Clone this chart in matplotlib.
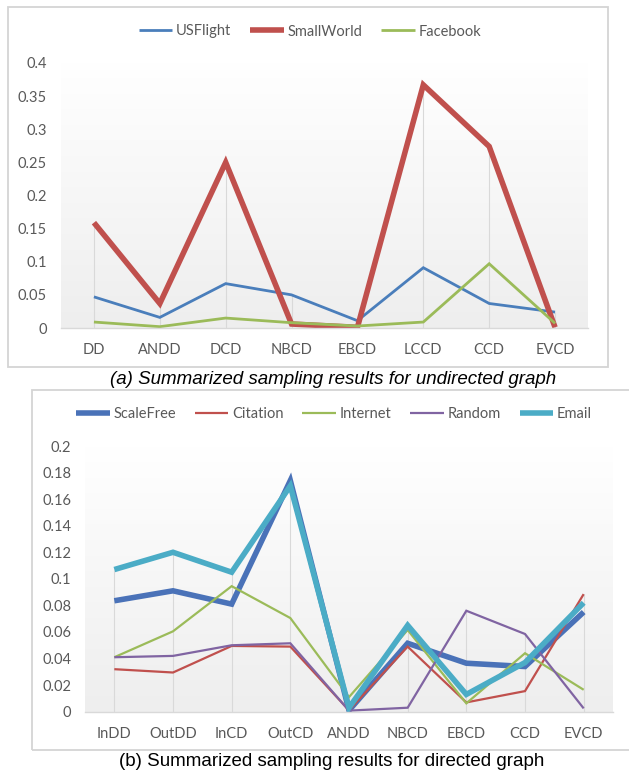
import matplotlib
matplotlib.use("Agg")
import matplotlib.pyplot as plt
import numpy as np
from matplotlib.patches import Rectangle

# ---------------- data ----------------
cats_a = ["DD", "ANDD", "DCD", "NBCD", "EBCD", "LCCD", "CCD", "EVCD"]
usflight = [0.047, 0.016, 0.067, 0.050, 0.011, 0.091, 0.037, 0.024]
smallworld = [0.159, 0.037, 0.250, 0.006, 0.001, 0.367, 0.274, 0.001]
facebook = [0.009, 0.002, 0.015, 0.008, 0.003, 0.009, 0.097, 0.007]
yticks_a = [0, 0.05, 0.1, 0.15, 0.2, 0.25, 0.3, 0.35, 0.4]
ylabels_a = ["0", "0.05", "0.1", "0.15", "0.2", "0.25", "0.3", "0.35", "0.4"]

cats_b = ["InDD", "OutDD", "InCD", "OutCD", "ANDD", "NBCD", "EBCD", "CCD", "EVCD"]
scalefree = [0.0835, 0.091, 0.081, 0.174, 0.001, 0.0515, 0.0365, 0.034, 0.075]
citation = [0.032, 0.0295, 0.0495, 0.049, 0.001, 0.049, 0.007, 0.0155, 0.0885]
internet = [0.041, 0.0605, 0.0945, 0.0705, 0.011, 0.0615, 0.0063, 0.044, 0.0165]
random_ = [0.041, 0.042, 0.050, 0.0515, 0.0008, 0.003, 0.076, 0.0585, 0.0025]
email = [0.107, 0.120, 0.105, 0.170, 0.003, 0.065, 0.013, 0.037, 0.082]
yticks_b = [0, 0.02, 0.04, 0.06, 0.08, 0.1, 0.12, 0.14, 0.16, 0.18, 0.2]
ylabels_b = ["0", "0.02", "0.04", "0.06", "0.08", "0.1", "0.12", "0.14", "0.16", "0.18", "0.2"]

caption_a = "(a) Summarized sampling results for undirected graph"
caption_b = "(b) Summarized sampling results for directed graph"

# ---------------- style ----------------
W, H = 629, 771
fig = plt.figure(figsize=(W / 100, H / 100), dpi=100)
FONT = "Lato"
TXT = "#595959"
GRID = "#d9d9d9"


def fx(px):
    return px / W


def fy(py):
    return 1 - py / H


def panel(rect_px, ax_px, cats, series, yticks, ylabels, ymax, legend_y_px, legend_cx_px):
    x0, y0, x1, y1 = rect_px
    fig.patches.append(Rectangle((fx(x0), fy(y1)), fx(x1) - fx(x0), fy(y0) - fy(y1),
                                 transform=fig.transFigure, fill=False,
                                 edgecolor="#d4d4d4", lw=1.3, zorder=0))
    l, t, r, b = ax_px
    ax = fig.add_axes([fx(l), fy(b), fx(r) - fx(l), fy(t) - fy(b)])
    n = len(cats)
    x = np.arange(n)
    ax.set_xlim(-0.5, n - 0.5)
    ax.set_ylim(0, ymax)
    grad = np.linspace(1.0, 0.0, 256).reshape(-1, 1)
    cmap = matplotlib.colors.LinearSegmentedColormap.from_list("g", ["#ffffff", "#eeeeee"])
    ax.imshow(grad, extent=[-0.5, n - 0.5, 0, ymax], aspect="auto", cmap=cmap,
              origin="lower", zorder=0, interpolation="bilinear")
    mx = np.max(np.array([s[0] for s in series]), axis=0)
    ax.vlines(x, 0, mx, color=GRID, lw=0.8, zorder=1)
    handles = []
    for vals, name, color, lw in series:
        ln, = ax.plot(x, vals, color=color, lw=lw, solid_joinstyle="miter",
                      solid_capstyle="butt", zorder=2, label=name)
        handles.append(ln)
    for s in ["top", "right", "left"]:
        ax.spines[s].set_visible(False)
    ax.spines["bottom"].set_color(GRID)
    ax.spines["bottom"].set_linewidth(1.0)
    ax.set_xticks(x)
    ax.set_xticklabels(cats)
    ax.set_yticks(yticks)
    ax.set_yticklabels(ylabels)
    ax.tick_params(axis="both", length=0, colors=TXT, labelsize=10.5)
    ax.tick_params(axis="y", pad=10)
    ax.tick_params(axis="x", pad=11)
    for lab in ax.get_xticklabels() + ax.get_yticklabels():
        lab.set_fontfamily(FONT)
    leg = fig.legend(handles=handles, loc="center", ncol=len(handles),
                     bbox_to_anchor=(fx(legend_cx_px), fy(legend_y_px)),
                     frameon=False, prop={"family": FONT, "size": 10.5},
                     handlelength=2.3, handletextpad=0.25, columnspacing=1.3,
                     borderpad=0)
    for tx in leg.get_texts():
        tx.set_color(TXT)
    return ax


panel((8, 7, 608, 367), (61, 63, 588, 328), cats_a,
      [(usflight, "USFlight", "#4a7ebb", 2.0),
       (smallworld, "SmallWorld", "#c0504d", 4.0),
       (facebook, "Facebook", "#9bbb59", 2.0)],
      yticks_a, ylabels_a, 0.4, 31.5, 310)

panel((32, 390, 640, 750), (85, 446, 613, 711.7), cats_b,
      [(scalefree, "ScaleFree", "#4a72b8", 4.0),
       (citation, "Citation", "#c0504d", 1.6),
       (internet, "Internet", "#9bbb59", 1.6),
       (random_, "Random", "#8064a2", 1.6),
       (email, "Email", "#4bacc6", 4.0)],
      yticks_b, ylabels_b, 0.2, 414, 334)

fig.text(fx(333), fy(380), caption_a, ha="center", va="center",
         fontsize=13.5, style="italic", family="Liberation Sans", color="black")
fig.text(fx(332), fy(761), caption_b, ha="center", va="center",
         fontsize=13.5, family="Liberation Sans", color="black")

fig.savefig("out.png", dpi=100)
